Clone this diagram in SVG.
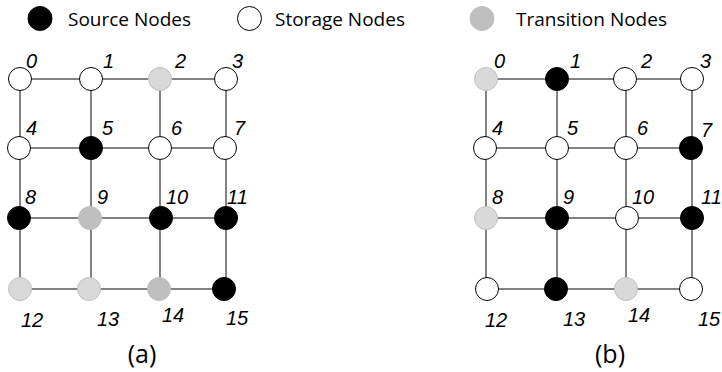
<svg xmlns="http://www.w3.org/2000/svg" width="722" height="372" viewBox="0 0 722 372">
<style>
.e{stroke:#595959;stroke-width:1.5;fill:none}
.n{stroke:#000;stroke-width:1}
.s{fill:#000}
.w{fill:#fff}
.t{fill:#d9d9d9;stroke:#bfbfbf}
.m{fill:#bfbfbf;stroke:#bfbfbf}
.lb{font-family:"Liberation Sans",Arial,sans-serif;font-style:italic;font-size:20px;fill:#000}
.lg{font-family:"Open Sans","Noto Sans",sans-serif;font-size:19px;fill:#000}
.cap{font-family:"Open Sans","Noto Sans",sans-serif;font-size:25px;fill:#000;text-anchor:middle}
</style>
<rect width="722" height="372" fill="#fff"/>
<g id="legend">
<circle class="n s" cx="40" cy="18.5" r="12"/>
<text class="lg" x="68" y="26">Source Nodes</text>
<circle class="n w" cx="249.5" cy="18.5" r="12"/>
<text class="lg" x="275" y="26">Storage Nodes</text>
<circle class="m" cx="482" cy="18.5" r="12"/>
<text class="lg" x="516" y="26">Transition Nodes</text>
</g>
<g id="connectors">
<path class="e" d="M20 79H226M19 148H225M19 218H226M20 289H224M20 79V289M91 79V289M160 79V289M226 79V289"/>
<path class="e" d="M486 79H692M485 148H691M486 218H692M487 289H691M486 79V289M557 79V289M626 79V289M692 79V289"/>
</g>
<g id="graph-a">
<g id="a0"><circle class="n w" cx="20" cy="79" r="11.5"/><text class="lb" x="26" y="68">0</text></g>
<g id="a1"><circle class="n w" cx="91" cy="79" r="11.5"/><text class="lb" x="103" y="68">1</text></g>
<g id="a2"><circle class="t" cx="160" cy="79" r="11.5"/><text class="lb" x="175" y="68">2</text></g>
<g id="a3"><circle class="n w" cx="226" cy="79" r="11.5"/><text class="lb" x="232" y="68">3</text></g>
<g id="a4"><circle class="n w" cx="19" cy="148" r="11.5"/><text class="lb" x="26" y="135">4</text></g>
<g id="a5"><circle class="n s" cx="91" cy="148" r="11.5"/><text class="lb" x="102" y="135">5</text></g>
<g id="a6"><circle class="n w" cx="160" cy="148" r="11.5"/><text class="lb" x="171" y="135">6</text></g>
<g id="a7"><circle class="n w" cx="225" cy="148" r="11.5"/><text class="lb" x="234" y="135">7</text></g>
<g id="a8"><circle class="n s" cx="19" cy="218" r="11.5"/><text class="lb" x="25" y="204">8</text></g>
<g id="a9"><circle class="m" cx="90" cy="218" r="11.5"/><text class="lb" x="97" y="204">9</text></g>
<g id="a10"><circle class="n s" cx="161" cy="218" r="11.5"/><text class="lb" x="166" y="204">10</text></g>
<g id="a11"><circle class="n s" cx="226" cy="218" r="11.5"/><text class="lb" x="227" y="204">11</text></g>
<g id="a12"><circle class="t" cx="20" cy="289" r="11.5"/><text class="lb" x="21" y="327">12</text></g>
<g id="a13"><circle class="t" cx="89" cy="289" r="11.5"/><text class="lb" x="97" y="326">13</text></g>
<g id="a14"><circle class="m" cx="159" cy="289" r="11.5"/><text class="lb" x="162" y="322">14</text></g>
<g id="a15"><circle class="n s" cx="224" cy="289" r="11.5"/><text class="lb" x="226" y="325">15</text></g>
<text class="cap" x="142" y="363">(a)</text>
</g>
<g id="graph-b">
<g id="b0"><circle class="t" cx="486" cy="79" r="11.5"/><text class="lb" x="494" y="68">0</text></g>
<g id="b1"><circle class="n s" cx="557" cy="79" r="11.5"/><text class="lb" x="570" y="68">1</text></g>
<g id="b2"><circle class="n w" cx="625" cy="79" r="11.5"/><text class="lb" x="641" y="68">2</text></g>
<g id="b3"><circle class="n w" cx="692" cy="79" r="11.5"/><text class="lb" x="700" y="68">3</text></g>
<g id="b4"><circle class="n w" cx="485" cy="148" r="11.5"/><text class="lb" x="492" y="135">4</text></g>
<g id="b5"><circle class="n w" cx="557" cy="148" r="11.5"/><text class="lb" x="567" y="135">5</text></g>
<g id="b6"><circle class="n w" cx="626" cy="148" r="11.5"/><text class="lb" x="637" y="135">6</text></g>
<g id="b7"><circle class="n s" cx="691" cy="148" r="11.5"/><text class="lb" x="701" y="137">7</text></g>
<g id="b8"><circle class="t" cx="486" cy="218" r="11.5"/><text class="lb" x="492" y="204">8</text></g>
<g id="b9"><circle class="n s" cx="557" cy="218" r="11.5"/><text class="lb" x="563" y="204">9</text></g>
<g id="b10"><circle class="n w" cx="627" cy="218" r="11.5"/><text class="lb" x="632" y="204">10</text></g>
<g id="b11"><circle class="n s" cx="692" cy="218" r="11.5"/><text class="lb" x="701" y="204">11</text></g>
<g id="b12"><circle class="n w" cx="487" cy="289" r="11.5"/><text class="lb" x="485" y="327">12</text></g>
<g id="b13"><circle class="n s" cx="556" cy="289" r="11.5"/><text class="lb" x="563" y="326">13</text></g>
<g id="b14"><circle class="t" cx="626" cy="289" r="11.5"/><text class="lb" x="628" y="322">14</text></g>
<g id="b15"><circle class="n w" cx="691" cy="289" r="11.5"/><text class="lb" x="698" y="326">15</text></g>
<text class="cap" x="610" y="363">(b)</text>
</g>
</svg>
